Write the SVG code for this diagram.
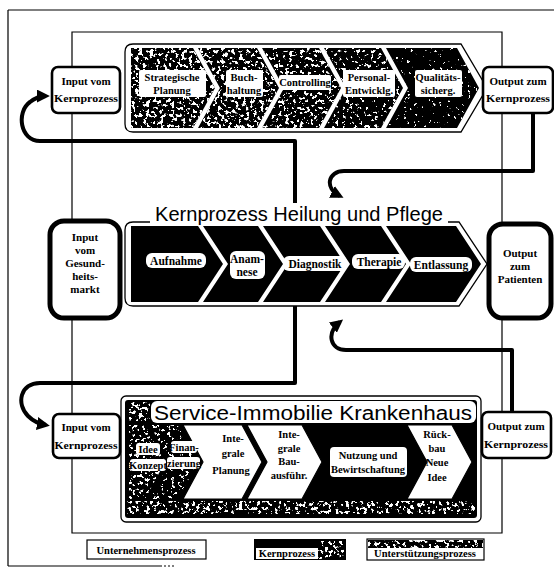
<svg xmlns="http://www.w3.org/2000/svg" width="554" height="581" viewBox="0 0 554 581">
  <style>
    .frame { fill: none; stroke: #000; stroke-width: 1.2; }
    .outline { fill: none; stroke: #000; stroke-width: 1.3; }
    .box { fill: #fff; stroke: #000; stroke-width: 2.6; }
    .bigbox { fill: #fff; stroke: #000; stroke-width: 5; }
    .conn { fill: none; stroke: #000; stroke-width: 4; stroke-linejoin: round; }
    .blk { fill: #000; }
    .wht { fill: #fff; stroke: #000; stroke-width: 1.2; }
    .lbl { fill: #fff; }
    .t { font-family: "Liberation Serif", "Times New Roman", serif; font-weight: bold; font-size: 11px; fill: #000; text-anchor: middle; }
    .ts { font-size: 10.5px; }
    .tc { font-size: 11.5px; }
    .title { font-family: "Liberation Sans", Arial, sans-serif; font-size: 20px; fill: #000; text-anchor: middle; }
  </style>
  <defs>
    <marker id="ah" viewBox="0 0 10 10" refX="7" refY="5" markerWidth="13" markerHeight="13" markerUnits="userSpaceOnUse" orient="auto">
      <path d="M0,0 L10,5 L0,10 z" fill="#000"/>
    </marker>
    <!-- black fill with white speckles; the threshold sets how grey it looks -->
    <filter id="grainA" x="0" y="0" width="1" height="1" color-interpolation-filters="sRGB">
      <feFlood flood-color="#000" result="bk"/>
      <feComposite in="bk" in2="SourceAlpha" operator="in" result="base"/>
      <feTurbulence type="fractalNoise" baseFrequency="0.28" numOctaves="3" seed="3" result="n"/>
      <feColorMatrix in="n" type="matrix" values="0 0 0 0 1  0 0 0 0 1  0 0 0 0 1  20 0 0 0 -11.2" result="w"/>
      <feComposite in="w" in2="SourceAlpha" operator="in" result="sp"/>
      <feMerge><feMergeNode in="base"/><feMergeNode in="sp"/></feMerge>
    </filter>
    <filter id="grainB" x="0" y="0" width="1" height="1" color-interpolation-filters="sRGB">
      <feFlood flood-color="#000" result="bk"/>
      <feComposite in="bk" in2="SourceAlpha" operator="in" result="base"/>
      <feTurbulence type="fractalNoise" baseFrequency="0.28" numOctaves="3" seed="11" result="n"/>
      <feColorMatrix in="n" type="matrix" values="0 0 0 0 1  0 0 0 0 1  0 0 0 0 1  20 0 0 0 -11.7" result="w"/>
      <feComposite in="w" in2="SourceAlpha" operator="in" result="sp"/>
      <feMerge><feMergeNode in="base"/><feMergeNode in="sp"/></feMerge>
    </filter>
    <filter id="grainC" x="0" y="0" width="1" height="1" color-interpolation-filters="sRGB">
      <feFlood flood-color="#000" result="bk"/>
      <feComposite in="bk" in2="SourceAlpha" operator="in" result="base"/>
      <feTurbulence type="fractalNoise" baseFrequency="0.28" numOctaves="3" seed="23" result="n"/>
      <feColorMatrix in="n" type="matrix" values="0 0 0 0 1  0 0 0 0 1  0 0 0 0 1  20 0 0 0 -12.5" result="w"/>
      <feComposite in="w" in2="SourceAlpha" operator="in" result="sp"/>
      <feMerge><feMergeNode in="base"/><feMergeNode in="sp"/></feMerge>
    </filter>
    <filter id="grainD" x="0" y="0" width="1" height="1" color-interpolation-filters="sRGB">
      <feFlood flood-color="#000" result="bk"/>
      <feComposite in="bk" in2="SourceAlpha" operator="in" result="base"/>
      <feTurbulence type="fractalNoise" baseFrequency="0.28" numOctaves="3" seed="31" result="n"/>
      <feColorMatrix in="n" type="matrix" values="0 0 0 0 1  0 0 0 0 1  0 0 0 0 1  20 0 0 0 -13.6" result="w"/>
      <feComposite in="w" in2="SourceAlpha" operator="in" result="sp"/>
      <feMerge><feMergeNode in="base"/><feMergeNode in="sp"/></feMerge>
    </filter>
  </defs>

  <!-- page frame and inner frame -->
  <g id="frames">
    <path class="frame" d="M8,10 H554 M8,10 V566 M8,566 H160"/>
    <path class="frame" d="M160,566 H174" stroke-dasharray="2,2"/>
    <path class="frame" d="M72,32 H502 V533 H72 Z"/>
  </g>

  <!-- thick feedback connectors -->
  <g id="connectors">
    <path class="conn" d="M295,205 V141 H40 C20,141 16,112 30,102 C35,98 40,96 46,96" marker-end="url(#ah)"/>
    <path class="conn" d="M533,113 V171 H344 C328,171 324,188 340,196" marker-end="url(#ah)"/>
    <path class="conn" d="M295,306 V383 H40 C20,383 16,404 28,416 C34,422 40,424 46,425" marker-end="url(#ah)"/>
    <path class="conn" d="M512,412 V350 H346 C330,350 326,333 340,322" marker-end="url(#ah)"/>
  </g>

  <!-- management processes (top band) -->
  <g id="management">
    <path class="outline" fill="#fff" d="M125,52 Q125,44 133,44 H461 L487,88 L461,132 H133 Q125,132 125,124 Z"/>
    <path filter="url(#grainA)" d="M131,48 H193 L215,88 L193,128 H131 Z"/>
    <path filter="url(#grainA)" d="M198,48 H257 L279,88 L257,128 H198 L220,88 Z"/>
    <path filter="url(#grainB)" d="M262,48 H319 L341,88 L319,128 H262 L284,88 Z"/>
    <path filter="url(#grainC)" d="M324,48 H381 L403,88 L381,128 H324 L346,88 Z"/>
    <path filter="url(#grainD)" d="M386,48 H457 L479,88 L457,128 H386 L408,88 Z"/>
    <rect class="lbl" x="139" y="70" width="67" height="27" rx="2"/>
    <rect class="lbl" x="226" y="70" width="37" height="27" rx="2"/>
    <rect class="lbl" x="279" y="75" width="52" height="15" rx="2"/>
    <rect class="lbl" x="343" y="70" width="52" height="27" rx="2"/>
    <rect class="lbl" x="415" y="70" width="47" height="27" rx="2"/>
    <text class="t ts" x="172" y="81">Strategische</text>
    <text class="t ts" x="172" y="94">Planung</text>
    <text class="t ts" x="244" y="81">Buch-</text>
    <text class="t ts" x="244" y="94">haltung</text>
    <text class="t ts" x="305" y="86">Controlling</text>
    <text class="t ts" x="369" y="81">Personal-</text>
    <text class="t ts" x="369" y="94">Entwicklg.</text>
    <text class="t ts" x="438" y="81">Qualitäts-</text>
    <text class="t ts" x="438" y="94">sicherg.</text>
  </g>

  <g id="input-top">
    <rect class="box" x="52" y="67" width="68" height="46" rx="6"/>
    <text class="t" x="86" y="85">Input vom</text>
    <text class="t" x="86" y="102" textLength="64" lengthAdjust="spacingAndGlyphs">Kernprozess</text>
  </g>
  <g id="output-top">
    <rect class="box" x="483" y="67" width="70" height="46" rx="6"/>
    <text class="t" x="518" y="85">Output zum</text>
    <text class="t" x="518" y="102" textLength="64" lengthAdjust="spacingAndGlyphs">Kernprozess</text>
  </g>

  <!-- core process (middle band) -->
  <g id="core">
    <path class="outline" fill="#fff" d="M125,230 Q125,222 133,222 H459 L487,264 L459,306 H133 Q125,306 125,298 Z"/>
    <path class="blk" d="M131,226 H198 L223,264 L198,302 H131 Z"/>
    <path class="blk" d="M203,226 H258 L283,264 L258,302 H203 L228,264 Z"/>
    <path class="blk" d="M263,226 H320 L345,264 L320,302 H263 L288,264 Z"/>
    <path class="blk" d="M325,226 H381 L406,264 L381,302 H325 L350,264 Z"/>
    <path class="blk" d="M386,226 H456 L481,264 L456,302 H386 L411,264 Z"/>
    <rect class="lbl" x="150" y="203" width="298" height="22"/>
    <text class="title" x="299" y="221" textLength="288" lengthAdjust="spacingAndGlyphs">Kernprozess Heilung und Pflege</text>
    <rect class="lbl" x="146" y="253" width="60" height="15" rx="6"/>
    <rect class="lbl" x="230" y="251" width="35" height="28" rx="6"/>
    <rect class="lbl" x="283" y="256" width="64" height="15" rx="6"/>
    <rect class="lbl" x="352" y="254" width="53" height="15" rx="6"/>
    <rect class="lbl" x="410" y="257" width="62" height="15" rx="6"/>
    <text class="t tc" x="176" y="265">Aufnahme</text>
    <text class="t tc" x="247" y="263">Anam-</text>
    <text class="t tc" x="247" y="276">nese</text>
    <text class="t tc" x="315" y="268">Diagnostik</text>
    <text class="t tc" x="379" y="266">Therapie</text>
    <text class="t tc" x="441" y="269">Entlassung</text>
  </g>

  <g id="input-market">
    <rect class="bigbox" x="50" y="221" width="70" height="97" rx="14"/>
    <text class="t" x="85" y="241">Input</text>
    <text class="t" x="85" y="254">vom</text>
    <text class="t" x="85" y="267">Gesund-</text>
    <text class="t" x="85" y="280">heits-</text>
    <text class="t" x="85" y="293">markt</text>
  </g>
  <g id="output-patient">
    <rect class="bigbox" x="489" y="224" width="62" height="94" rx="14"/>
    <text class="t" x="520" y="257">Output</text>
    <text class="t" x="520" y="270">zum</text>
    <text class="t" x="520" y="283">Patienten</text>
  </g>

  <!-- support processes (bottom band) -->
  <g id="support">
    <rect class="outline" fill="#fff" x="121" y="396" width="360" height="126" rx="5"/>
    <rect class="blk" x="125" y="400" width="352" height="118" rx="3"/>
    <rect filter="url(#grainA)" x="129" y="402" width="21" height="19"/>
    <rect class="lbl" x="151" y="401" width="325" height="22" rx="6"/>
    <text class="title" x="313" y="420" font-size="21" textLength="318" lengthAdjust="spacingAndGlyphs">Service-Immobilie Krankenhaus</text>
    <path filter="url(#grainB)" d="M129,425 H145 L165,462 L145,499 H129 Z"/>
    <path filter="url(#grainC)" d="M150,425 H178 L198,462 L178,499 H150 L170,462 Z"/>
    <path class="wht" d="M183,425 H242 L262,462 L242,499 H183 L203,462 Z"/>
    <path class="wht" d="M247,425 H302 L322,462 L302,499 H247 L267,462 Z"/>
    <path class="blk" d="M307,425 H402 L422,462 L402,499 H307 L327,462 Z"/>
    <path class="wht" d="M407,425 H452 L472,462 L452,499 H407 L427,462 Z"/>
    <rect filter="url(#grainA)" x="127" y="501" width="348" height="13"/>
    <rect class="lbl" x="136" y="443" width="24" height="12" rx="3"/>
    <rect class="lbl" x="130" y="459" width="36" height="12" rx="3"/>
    <rect class="lbl" x="171" y="441" width="26" height="12" rx="3"/>
    <rect class="lbl" x="167" y="457" width="33" height="12" rx="3"/>
    <rect class="lbl" x="330" y="447" width="77" height="30" rx="4"/>
    <text class="t ts" x="148" y="453">Idee</text>
    <text class="t ts" x="148" y="469">Konzept</text>
    <text class="t ts" x="184" y="451">Finan-</text>
    <text class="t ts" x="184" y="467">zierung</text>
    <text class="t ts" x="233" y="442">Inte-</text>
    <text class="t ts" x="233" y="457">grale</text>
    <text class="t ts" x="231" y="474">Planung</text>
    <text class="t ts" x="289" y="438">Inte-</text>
    <text class="t ts" x="289" y="452">grale</text>
    <text class="t ts" x="289" y="465">Bau-</text>
    <text class="t ts" x="289" y="479">ausführ.</text>
    <text class="t ts" x="368" y="459">Nutzung und</text>
    <text class="t ts" x="368" y="473">Bewirtschaftung</text>
    <text class="t ts" x="437" y="438">Rück-</text>
    <text class="t ts" x="437" y="452">bau</text>
    <text class="t ts" x="437" y="466">Neue</text>
    <text class="t ts" x="437" y="481">Idee</text>
  </g>

  <g id="input-bottom">
    <rect class="box" x="53" y="414" width="67" height="44" rx="6"/>
    <text class="t" x="86" y="431">Input vom</text>
    <text class="t" x="86" y="449" textLength="63" lengthAdjust="spacingAndGlyphs">Kernprozess</text>
  </g>
  <g id="output-bottom">
    <rect class="box" x="482" y="412" width="69" height="46" rx="6"/>
    <text class="t" x="516" y="430">Output zum</text>
    <text class="t" x="516" y="448" textLength="64" lengthAdjust="spacingAndGlyphs">Kernprozess</text>
  </g>

  <!-- legend -->
  <g id="legend">
    <g id="legend-management">
      <rect class="wht" x="87" y="540" width="119" height="19"/>
      <text class="t ts" x="146" y="554">Unternehmensprozess</text>
    </g>
    <g id="legend-core">
      <rect class="blk" x="254" y="539" width="92" height="21"/>
      <rect filter="url(#grainA)" x="318" y="541" width="26" height="18"/>
      <rect class="lbl" x="256" y="548" width="62" height="11"/>
      <text class="t ts" x="287" y="557">Kernprozess</text>
    </g>
    <g id="legend-support">
      <rect class="wht" x="367" y="539" width="117" height="21"/>
      <rect filter="url(#grainA)" x="368" y="540" width="115" height="8"/>
      <text class="t ts" x="425" y="557">Unterstützungsprozess</text>
    </g>
  </g>
</svg>
